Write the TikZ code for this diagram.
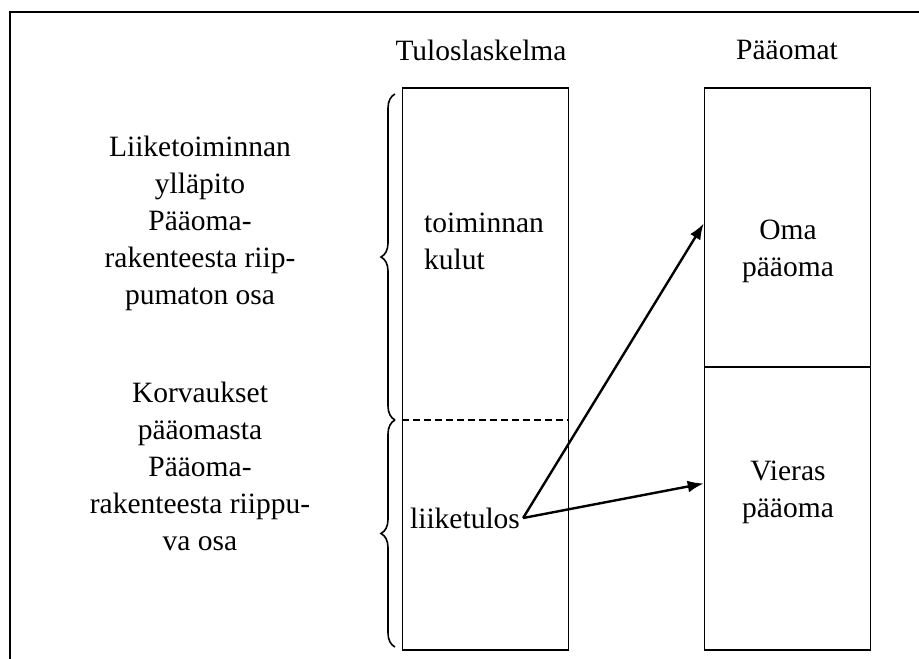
\documentclass[tikz,border=0pt]{standalone}
\usepackage{fontspec}
\setmainfont{Liberation Serif}
\usetikzlibrary{decorations.pathreplacing,arrows.meta,calc}
\begin{document}
\begin{tikzpicture}[x=1pt,y=-1pt,
  lbl/.style={font=\fontsize{29.5}{37}\selectfont, inner sep=0pt},
  boxpart/.style={draw, line width=1.6pt, minimum width=166pt, inner sep=0pt},
  arr/.style={line width=2.4pt, -{Latex[length=16pt,width=12pt]}},
  bracepath/.style={decorate, decoration={brace, amplitude=14pt, aspect=0.5}, line width=1.6pt},
  frameline/.style={line width=2.2pt}
]
\useasboundingbox (0,0) rectangle (919,659);
% frame
\coordinate (ftr) at (919,12);
\coordinate (ftl) at (10,12);
\coordinate (fbl) at (10,659);
\draw[frameline] (ftr) -- (ftl) -- (fbl);

% headers
\node[lbl] (h1) at (481,50) {Tuloslaskelma};
\node[lbl] (h2) at (787,50) {Pääomat};

% left box
\node[boxpart, minimum height=562pt] (tl) at (485.5,369) {};
\draw[line width=1.2pt, dash pattern=on 7pt off 4pt] ($(tl.west)+(0,51)$) coordinate (dl) -- ($(tl.east)+(0,51)$) coordinate (dr);

% right box
\node[boxpart, minimum height=279pt] (oma) at (787.5,227.5) {};
\node[boxpart, minimum height=283pt] (vieras) at (787.5,508.5) {};

% texts in boxes
\node[lbl, align=left, anchor=west] (kulut) at (424,241) {toiminnan\\kulut};
\node[lbl, inner sep=3pt] (lt) at (465,518) {liiketulos};
\node[lbl, align=center] (omat) at (788,251) {Oma\\pääoma};
\node[lbl, align=center] (vierast) at (788,492) {Vieras\\pääoma};

% arrows
\draw[arr] (lt.east) -- ([yshift=4pt]oma.west);
\draw[arr] (lt.east) -- ([yshift=25pt]vieras.west);

% braces
\coordinate (b1top) at (395,94);
\coordinate (bmid) at (395,420);
\coordinate (b2bot) at (395,647);
\draw[bracepath] (bmid) -- (b1top);
\draw[bracepath] (b2bot) -- (bmid);

% left labels
\node[lbl, align=center] (l1) at (200,223) {Liiketoiminnan\\ylläpito\\Pääoma-\\rakenteesta riip-\\pumaton osa};
\node[lbl, align=center] (l2) at (200,466) {Korvaukset\\pääomasta\\Pääoma-\\rakenteesta riippu-\\va osa};
\end{tikzpicture}
\end{document}
